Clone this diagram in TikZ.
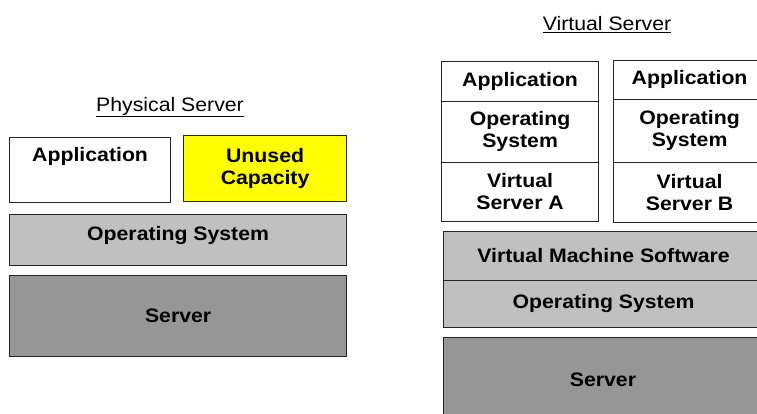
\documentclass[tikz,border=0pt]{standalone}
\usepackage{fontspec}
\setmainfont{Liberation Sans}[FakeStretch=1.09]
\definecolor{lightgr}{HTML}{C0C0C0}
\definecolor{darkgr}{HTML}{969696}
\definecolor{edge}{HTML}{262626}
\definecolor{unused}{HTML}{FFFF00}
\begin{document}
\begin{tikzpicture}[x=1pt,y=1pt,
  cell/.style={draw=edge, line width=1.2pt, anchor=south west, inner sep=0pt, align=center,
    font=\bfseries\fontsize{19.5}{22}\selectfont},
  txt/.style={inner sep=0pt, align=center, font=\bfseries\fontsize{19.5}{22}\selectfont},
  title/.style={inner sep=0pt, font=\fontsize{19.5}{22}\selectfont}]
\useasboundingbox (0,0) rectangle (757,414);
\clip (0,0) rectangle (757,414);
% ---------- Physical server ----------
\node[title] (ptitle) at (170,307) {\underline{Physical Server}};
\node[cell, fill=white, minimum width=161pt, minimum height=65pt] (papp) at (9,211) {};
\node[txt] (papptxt) at ([yshift=-20pt]papp.north) {Application};
\node[cell, fill=unused, minimum width=163pt, minimum height=66pt] (punused) at (183,212) {Unused\\Capacity};
\node[cell, fill=lightgr, minimum width=337pt, minimum height=51pt] (pos) at (9,148) {};
\node[txt] (postxt) at ([yshift=4pt]pos.center) {Operating System};
\node[cell, fill=darkgr, minimum width=337pt, minimum height=81pt] (psrv) at (9,57) {Server};
% ---------- Virtual server ----------
\node[title] (vtitle) at (607,389) {\underline{Virtual Server}};
% column A
\node[cell, fill=white, minimum width=157pt, minimum height=40pt] (aapp) at (441,312) {Application};
\node[cell, fill=white, minimum width=157pt, minimum height=61pt] (aos) at (441,251) {Operating\\System};
\node[cell, fill=white, minimum width=157pt, minimum height=59pt] (avs) at (441,192) {Virtual\\Server A};
% column B
\node[cell, fill=white, minimum width=152pt, minimum height=39pt] (bapp) at (613,314) {Application};
\node[cell, fill=white, minimum width=152pt, minimum height=63pt] (bos) at (613,251) {Operating\\System};
\node[cell, fill=white, minimum width=152pt, minimum height=60pt] (bvs) at (613,191) {Virtual\\Server B};
% base layers
\node[cell, fill=lightgr, minimum width=320pt, minimum height=49pt] (vms) at (443,133) {Virtual Machine Software};
\node[cell, fill=lightgr, minimum width=320pt, minimum height=47pt] (vos) at (443,86) {Operating System};
\node[cell, fill=darkgr, minimum width=320pt, minimum height=92pt] (vsrv) at (443,-16) {};
\node[txt] (vsrvtxt) at (603,34) {Server};
\end{tikzpicture}
\end{document}
